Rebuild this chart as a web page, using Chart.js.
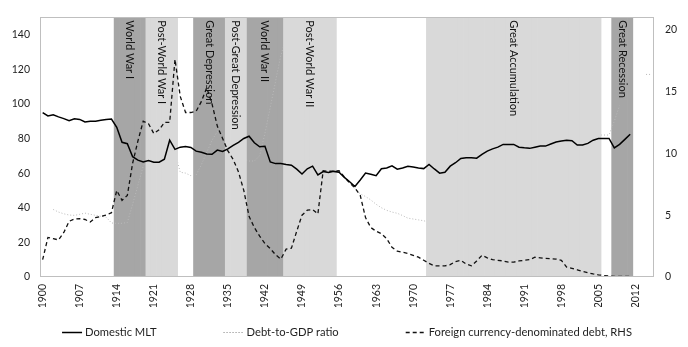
<!DOCTYPE html>
<html><head><meta charset="utf-8">
<script src="https://cdn.jsdelivr.net/npm/chart.js@4/dist/chart.umd.min.js"></script>
<style>html,body{margin:0;padding:0;background:#fff}#wrap{width:688px;height:347px;position:relative}</style>
</head><body><div id="wrap"><canvas id="c" width="688" height="347"></canvas></div>
<script>
const firstYear = 1900, lastYear = 2015;
const years = [];
for (let y = firstYear; y <= lastYear; y++) years.push(String(y));
const tickYears = [1900,1907,1914,1921,1928,1935,1942,1949,1956,1963,1970,1977,1984,1991,1998,2005,2012];

// Domestic MLT, % (left axis), 1900-2011
const domesticMLT = [
  95, 93, 93.7, 92.5, 91.5, 90.3, 91.4, 91, 89.5, 90,
  90, 90.5, 91, 91.2, 86.5, 77.8, 77, 69.5, 67.5, 66.5,
  67.3, 66.3, 66.3, 68, 79, 73.7, 75, 75.4, 74.8, 72.7,
  72, 71, 70.9, 73.3, 72.5, 74, 76, 77.8, 80, 81.3,
  77.5, 75.2, 75.5, 66.5, 65.5, 65.5, 65, 64.6, 62.3, 59.5,
  62.5, 64, 59, 60.9, 60.3, 61, 60.5, 57.5, 55, 52.3,
  56, 60, 59.3, 58.5, 62.5, 63, 64.2, 62.3, 63, 64,
  63.5, 63, 62.6, 65, 62.4, 60, 60.5, 64, 66, 68.5,
  68.9, 68.9, 68.6, 70.8, 72.7, 74, 75, 76.6, 76.6, 76.6,
  75, 74.6, 74.3, 75, 75.6, 75.6, 76.8, 78, 78.5, 79,
  78.7, 76.2, 76.2, 77.2, 79, 80, 80, 80, 74.6, 76.6,
  79.5, 82.5, null, null, null, null
];

// Debt-to-GDP ratio, % (left axis), 1900-2015
const debtToGDP = [
  null, null, 39, 37.5, 36.5, 35.8, 35.6, 36.2, 36.9, 36.2,
  35.6, 35.1, 34.6, 31.2, 31, 31, 31.5, 42, 53, 64,
  70, 76, 81, 86, 90, 72, 60.5, 60, 58.5, 59,
  65, 72, 79, 84, 83, 79, 75, 71, 68, 67,
  67, 70, 83, 98, 113, 128, 138, 125, 110, 96,
  85, 76, 69, 66, 64, 62, 60, 57.5, 55, 51,
  48, 46.5, 44.5, 42, 40, 38.5, 37.5, 36.8, 35.5, 34,
  33.5, 33, 32.5, 31.5, 33, 35, 37, 38, 40, 41,
  43, 47, 51, 55, 58, 59, 60, 60, 60, 61,
  64, 67, 70, 73, 74, 75, 75, 75.2, 75.2, 75.2,
  76, 77, 78, 79, 80, 82, 82, 82, 90, 99,
  null, null, null, null, 117, 117
];

// Foreign currency-denominated debt, % (right axis), 1900-2011
const foreignDebtRHS = [
  1.4, 3.2, 3.1, 3.0, 3.6, 4.5, 4.7, 4.72, 4.65, 4.45,
  4.8, 4.9, 5.0, 5.2, 7.0, 6.2, 6.6, 9.2, 11.0, 12.6,
  12.4, 11.6, 11.9, 12.5, 12.5, 17.6, 14.6, 13.3, 13.3, 13.4,
  14.2, 15.3, 14.0, 12.2, 11.2, 10.2, 9.5, 8.5, 7.0, 4.9,
  4.0, 3.3, 2.7, 2.3, 1.8, 1.45, 2.25, 2.33, 3.7, 5.0,
  5.4, 5.45, 5.1, 8.6, 8.55, 8.55, 8.6, 8.1, 7.6, 7.2,
  6.6, 4.8, 4.0, 3.7, 3.5, 3.1, 2.4, 2.1, 2.0, 1.9,
  1.75, 1.6, 1.35, 1.1, 0.9, 0.9, 0.9, 1.0, 1.25, 1.35,
  1.05, 0.9, 1.3, 1.75, 1.55, 1.4, 1.35, 1.3, 1.2, 1.2,
  1.3, 1.35, 1.4, 1.6, 1.55, 1.5, 1.48, 1.45, 1.35, 0.8,
  0.7, 0.58, 0.45, 0.35, 0.25, 0.18, 0.12, 0.08, 0.05, 0.05,
  0.05, 0.05, null, null, null, null
];

// Shaded episodes
const bandNames = ['World War I','Post-World War I','Great Depression','Post-Great Depression','World War II','Post-World War II','Great Accumulation','Great Recession'];
const bandStart = [1914, 1920, 1929, 1935, 1939, 1946, 1973, 2008];
const bandEnd   = [1919, 1925, 1934, 1938, 1945, 1955, 2005, 2011];
const bandTone  = ['dark','light','dark','light','dark','light','light','dark'];

const FONT = 'Lato, "Liberation Sans", sans-serif';
const TXT = '#1f1f1f';

function bandSeries(tone) {
  return years.map(y => {
    const yr = +y;
    for (let i = 0; i < bandNames.length; i++) {
      if (bandTone[i] === tone && yr >= bandStart[i] && yr <= bandEnd[i]) return 1;
    }
    return null;
  });
}

const bandLabelPlugin = {
  id: 'bandLabels',
  afterDatasetsDraw(chart) {
    const {ctx, chartArea, scales: {x}} = chart;
    ctx.save();
    ctx.font = '11px ' + FONT;
    ctx.fillStyle = '#111';
    ctx.textAlign = 'left';
    ctx.textBaseline = 'middle';
    bandNames.forEach((name, i) => {
      const x0 = x.getPixelForValue(years.indexOf(String(bandStart[i])));
      const x1 = x.getPixelForValue(years.indexOf(String(bandEnd[i])));
      ctx.save();
      ctx.translate((x0 + x1) / 2, chartArea.top + 3);
      ctx.rotate(Math.PI / 2);
      ctx.fillText(name, 0, 0);
      ctx.restore();
    });
    ctx.restore();
  }
};

const borderPlugin = {
  id: 'plotBorder',
  afterDraw(chart) {
    const {ctx, chartArea: a} = chart;
    ctx.save();
    ctx.strokeStyle = '#bfbfbf';
    ctx.lineWidth = 1;
    ctx.strokeRect(Math.round(a.left) + 0.5, Math.round(a.top) + 0.5, Math.round(a.right - a.left) - 1, Math.round(a.bottom - a.top) - 1);
    ctx.restore();
  }
};

const legendPlugin = {
  id: 'bottomLegend',
  afterDraw(chart) {
    const {ctx, chartArea: a} = chart;
    const items = chart.data.datasets.filter(d => d.type === 'line');
    ctx.save();
    ctx.font = '11.2px ' + FONT;
    const lineLen = 20, gapText = 3, gapItem = 67;
    const widths = items.map(d => lineLen + gapText + ctx.measureText(d.label).width);
    const total = widths.reduce((s, w) => s + w, 0) + gapItem * (items.length - 1);
    let x = (a.left + a.right) / 2 - total / 2;
    const y = 332;
    items.forEach((d, i) => {
      ctx.save();
      ctx.strokeStyle = d.legendColor || d.borderColor;
      ctx.lineWidth = d.borderWidth;
      ctx.setLineDash(d.borderDash || []);
      ctx.beginPath();
      ctx.moveTo(x, y + 0.5);
      ctx.lineTo(x + lineLen, y + 0.5);
      ctx.stroke();
      ctx.restore();
      ctx.fillStyle = TXT;
      ctx.textAlign = 'left';
      ctx.textBaseline = 'middle';
      ctx.fillText(d.label, x + lineLen + gapText, y);
      x += widths[i] + gapItem;
    });
    ctx.restore();
  }
};

new Chart(document.getElementById('c'), {
  type: 'line',
  data: {
    labels: years,
    datasets: [
      { type: 'line', label: 'Domestic MLT', data: domesticMLT, yAxisID: 'y',
        borderColor: '#000', borderWidth: 1.5, pointRadius: 0, tension: 0, fill: false, order: 1 },
      { type: 'line', label: 'Debt-to-GDP ratio', data: debtToGDP, yAxisID: 'y',
        borderColor: '#b9b9b9', legendColor: '#7f7f7f', borderWidth: 1, borderDash: [1, 2], pointRadius: 0, tension: 0, fill: false, order: 11 },
      { type: 'line', label: 'Foreign currency-denominated debt, RHS', data: foreignDebtRHS, yAxisID: 'y1',
        borderColor: '#111', borderWidth: 1.3, borderDash: [4, 3], pointRadius: 0, tension: 0, fill: false, order: 2 },
      { type: 'bar', label: 'dark', data: bandSeries('dark'), yAxisID: 'yb', backgroundColor: '#a6a6a6',
        barPercentage: 1, categoryPercentage: 1, grouped: false, order: 12 },
      { type: 'bar', label: 'light', data: bandSeries('light'), yAxisID: 'yb', backgroundColor: '#d9d9d9',
        barPercentage: 1, categoryPercentage: 1, grouped: false, order: 10 }
    ]
  },
  options: {
    responsive: false,
    devicePixelRatio: 1,
    animation: false,
    layout: { padding: { top: 15, left: 0, right: 0, bottom: 40 } },
    plugins: { legend: { display: false }, tooltip: { enabled: false } },
    scales: {
      x: {
        type: 'category', offset: true,
        grid: { display: false, drawTicks: false }, border: { display: false },
        ticks: { autoSkip: false, minRotation: 90, maxRotation: 90, padding: 7,
          font: { family: FONT, size: 10.5 }, color: TXT,
          callback: (v, i) => tickYears.includes(+years[i]) ? years[i] : '' },
        afterFit: s => { s.height = 30; }
      },
      y: {
        position: 'left', min: 0, max: 150,
        grid: { display: false, drawTicks: false }, border: { display: false },
        ticks: { stepSize: 20, includeBounds: false, padding: 10, font: { family: FONT, size: 10.5 }, color: TXT },
        afterFit: s => { s.width = 40; }
      },
      y1: {
        position: 'right', min: 0, max: 21,
        grid: { display: false, drawTicks: false }, border: { display: false },
        ticks: { stepSize: 5, includeBounds: false, padding: 11, font: { family: FONT, size: 10.5 }, color: TXT },
        afterFit: s => { s.width = 34; }
      },
      yb: { display: false, min: 0, max: 1 }
    }
  },
  plugins: [bandLabelPlugin, borderPlugin, legendPlugin]
});
</script>
</body></html>
